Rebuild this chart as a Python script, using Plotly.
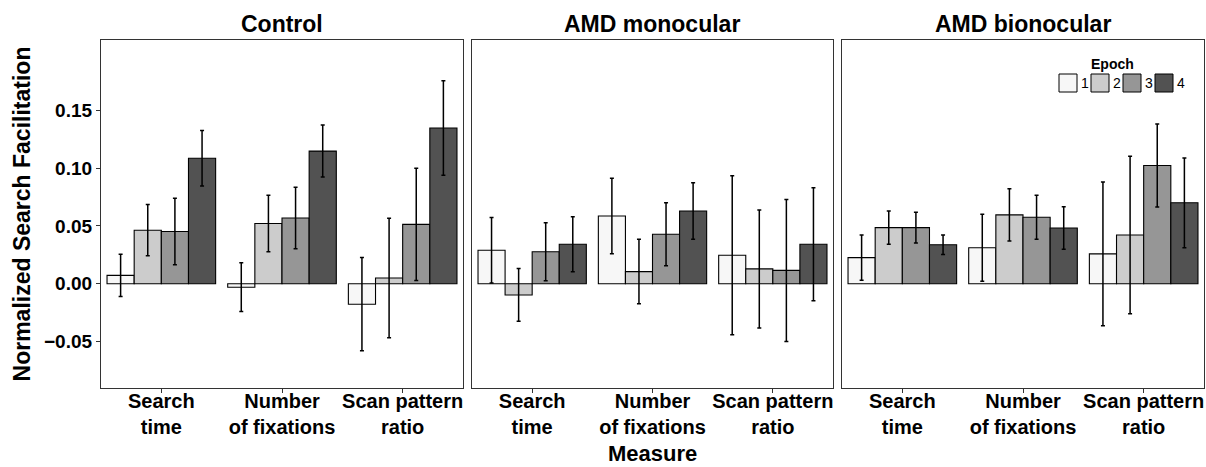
import plotly.graph_objects as go

W, H = 1206, 467

# ---------------- data ----------------
measures = ["Search<br>time", "Number<br>of fixations", "Scan pattern<br>ratio"]
groups = ["Control", "AMD monocular", "AMD bionocular"]
epochs = ["1", "2", "3", "4"]
epoch_colors = ["#F7F7F7", "#CCCCCC", "#969696", "#525252"]

# means[group][epoch] -> values per measure
control_mean = [
    [0.0072, -0.0030, -0.0177],
    [0.0463, 0.0521, 0.0050],
    [0.0451, 0.0568, 0.0513],
    [0.1085, 0.1147, 0.1347],
]
control_err = [
    [0.0183, 0.0211, 0.0403],
    [0.0222, 0.0244, 0.0517],
    [0.0288, 0.0266, 0.0485],
    [0.0240, 0.0225, 0.0409],
]
mono_mean = [
    [0.0289, 0.0586, 0.0246],
    [-0.0097, 0.0105, 0.0128],
    [0.0276, 0.0428, 0.0115],
    [0.0341, 0.0629, 0.0341],
]
mono_err = [
    [0.0283, 0.0326, 0.0688],
    [0.0228, 0.0279, 0.0510],
    [0.0251, 0.0272, 0.0614],
    [0.0238, 0.0245, 0.0489],
]
bino_mean = [
    [0.0226, 0.0311, 0.0258],
    [0.0485, 0.0595, 0.0421],
    [0.0485, 0.0575, 0.1022],
    [0.0337, 0.0482, 0.0700],
]
bino_err = [
    [0.0195, 0.0289, 0.0622],
    [0.0144, 0.0226, 0.0681],
    [0.0133, 0.0191, 0.0359],
    [0.0084, 0.0184, 0.0388],
]
means = [control_mean, mono_mean, bino_mean]
errs = [control_err, mono_err, bino_err]

y_ticks = [-0.05, 0.00, 0.05, 0.10, 0.15]
y_ticktext = ["\u22120.05", "0.00", "0.05", "0.10", "0.15"]
y_range = [-0.0902, 0.2108]

# ---------------- layout helpers ----------------
def px_x(x):
    return x / W

def px_y(y):
    return 1 - y / H

panel_px = [(101, 463), (472, 833), (842, 1204)]
top_px, bot_px = 40, 388
FONT = "Liberation Sans, Arial, sans-serif"
BORDER = "#333333"

fig = go.Figure()

for gi, g in enumerate(groups):
    xa = "x" if gi == 0 else f"x{gi+1}"
    ya = "y" if gi == 0 else f"y{gi+1}"
    for ei, e in enumerate(epochs):
        fig.add_trace(go.Bar(
            x=measures,
            y=means[gi][ei],
            name=e,
            offsetgroup=e,
            legendgroup=e,
            showlegend=False,
            marker=dict(color=epoch_colors[ei], line=dict(color="black", width=1.1)),
            error_y=dict(type="data", array=errs[gi][ei], visible=True,
                         color="black", thickness=1.5, width=2),
            xaxis=xa, yaxis=ya,
        ))

layout = dict(
    width=W, height=H,
    margin=dict(l=0, r=0, t=0, b=0),
    paper_bgcolor="white", plot_bgcolor="white",
    barmode="group", bargap=0.1, bargroupgap=0,
    font=dict(family=FONT, color="black"),
    showlegend=False,
)

for gi in range(3):
    sx = "" if gi == 0 else str(gi + 1)
    x0, x1 = panel_px[gi]
    layout["xaxis" + sx] = dict(
        domain=[px_x(x0), px_x(x1)],
        anchor="y" + sx,
        type="category",
        range=[-0.5, 2.5],
        showline=True, mirror=True, linecolor=BORDER, linewidth=1.3,
        ticks="outside", ticklen=4, tickcolor=BORDER, tickwidth=1,
        ticklabelstandoff=-9,
        tickfont=dict(size=20, family=FONT, color="black", weight="bold"),
        showgrid=False, zeroline=False,
    )
    layout["yaxis" + sx] = dict(
        domain=[px_y(bot_px), px_y(top_px)],
        anchor="x" + sx,
        range=y_range,
        tickvals=y_ticks,
        ticktext=y_ticktext,
        showticklabels=(gi == 0),
        ticks="outside" if gi == 0 else "",
        ticklen=4, tickcolor=BORDER, tickwidth=1,
        tickfont=dict(size=19, family=FONT, color="black", weight="bold"),
        showline=True, mirror=True, linecolor=BORDER, linewidth=1.3,
        showgrid=False, zeroline=False,
    )

layout["yaxis"]["title"] = dict(
    text="Normalized Search Facilitation",
    font=dict(size=23, family=FONT, color="black", weight="bold"),
    standoff=6,
)

fig.update_layout(**layout)

# panel titles
for gi, g in enumerate(groups):
    x0, x1 = panel_px[gi]
    fig.add_annotation(
        x=px_x((x0 + x1) / 2), y=px_y(24.5), xref="paper", yref="paper",
        text=f"<b>{g}</b>", showarrow=False,
        font=dict(size=23, family=FONT, color="black"),
        xanchor="center", yanchor="middle",
    )

# x axis title
fig.add_annotation(
    x=px_x((panel_px[0][0] + panel_px[2][1]) / 2), y=0, xref="paper", yref="paper",
    text="<b>Measure</b>", showarrow=False,
    font=dict(size=22, family=FONT, color="black"),
    xanchor="center", yanchor="bottom", borderpad=0,
)

# legend (drawn inside third panel)
fig.add_annotation(
    x=px_x(1112), y=px_y(64), xref="paper", yref="paper",
    text="<b>Epoch</b>", showarrow=False,
    font=dict(size=14, family=FONT, color="black"),
    xanchor="center", yanchor="middle",
)
key_left = 1059
key_step = 32
for ei, e in enumerate(epochs):
    kx = key_left + ei * key_step
    fig.add_shape(
        type="rect", xref="paper", yref="paper",
        x0=px_x(kx), x1=px_x(kx + 18), y0=px_y(92), y1=px_y(74),
        fillcolor=epoch_colors[ei], line=dict(color="black", width=1),
    )
    fig.add_annotation(
        x=px_x(kx + 19.5), y=px_y(83), xref="paper", yref="paper",
        text=e, showarrow=False,
        font=dict(size=14, family=FONT, color="black"),
        xanchor="left", yanchor="middle",
    )

fig.write_html("out.html")
